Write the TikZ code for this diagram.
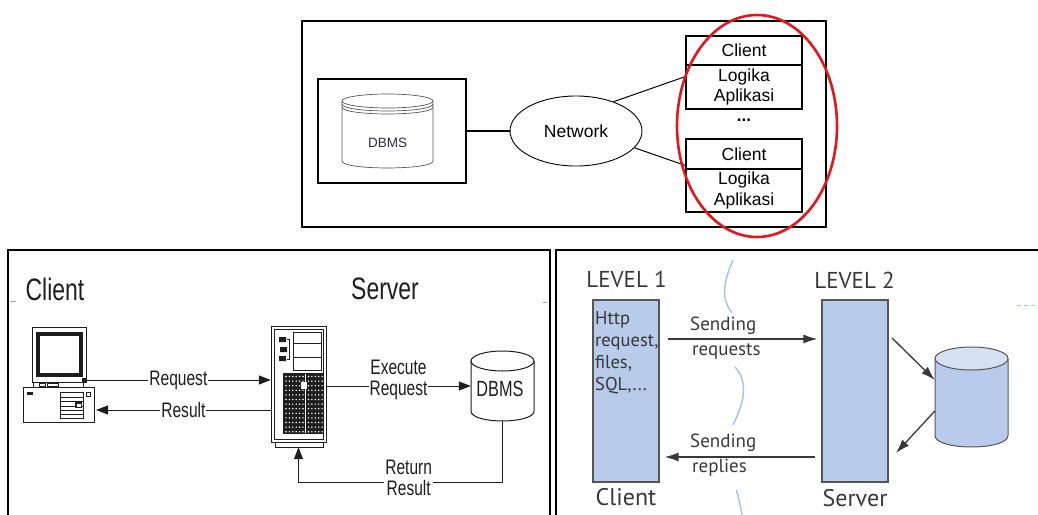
\documentclass[tikz,border=0pt]{standalone}
\usepackage{fontspec}
\setmainfont{Liberation Sans}
\newfontfamily\narrowsf[FakeStretch=0.74]{Liberation Sans}
\newfontfamily\handsf{PT Sans}
\usetikzlibrary{shapes.geometric,arrows.meta}

\definecolor{barblue}{HTML}{B9CBEA}
\definecolor{barlight}{HTML}{D6E1F3}
\definecolor{bargray}{HTML}{555555}
\definecolor{waveblue}{HTML}{A9C3E6}
\definecolor{handgray}{HTML}{383838}
\definecolor{inkgray}{HTML}{1E1E1E}
\definecolor{ringred}{HTML}{E8141C}
\definecolor{cylgray}{HTML}{555555}
\definecolor{dbtext}{HTML}{2A2A44}

\begin{document}
\begin{tikzpicture}[x=1pt,y=-1pt,
  panelline/.style={line width=1.6pt},
  cbox/.style={draw, line width=1.6pt, minimum width=116pt, inner sep=0pt, align=center,
    font=\fontsize{17.5}{20.5}\selectfont},
  narrowlab/.style={fill=white, inner sep=1pt, align=center, text=inkgray,
    font=\narrowsf\fontsize{21}{21}\selectfont},
  conn/.style={line width=1pt, draw=inkgray, -{Triangle[length=12pt,width=9pt]}},
  icon/.style={line width=0.9pt, draw=inkgray},
  levelbar/.style={draw=bargray, fill=barblue, line width=1.2pt, minimum width=66pt,
    minimum height=182pt, inner sep=0pt},
  handtext/.style={text=handgray, font=\handsf\fontsize{19}{22}\selectfont, inner sep=0pt},
  harrow/.style={draw=handgray, line width=1.3pt, -{Latex[length=14pt,width=9pt]}},
  wave/.style={draw=waveblue, line width=1.5pt},
]
\useasboundingbox (0,0) rectangle (1038,514);

% ---------------- two-tier architecture with client logic ----------------
\draw[panelline] (302,21) rectangle (826,227);

\node[draw, line width=1.6pt, minimum width=148pt, minimum height=104pt, inner sep=0pt]
  (dbbox) at (392,131) {};
% database cylinder with a layered lid
\begin{scope}[draw=cylgray, line width=0.7pt]
  \draw (342,101) -- (342,161) .. controls (342,170.3) and (433,170.3) .. (433,161) -- (433,101);
  \draw (387.5,101) ellipse [x radius=45.5pt, y radius=7pt];
  \draw (342,104) .. controls (342,113.3) and (433,113.3) .. (433,104);
  \draw (342,107) .. controls (342,116.3) and (433,116.3) .. (433,107);
\end{scope}
\node[text=dbtext, font=\fontsize{13.5}{16}\selectfont] (dbmstop) at (387.5,143) {DBMS};

\node[draw, ellipse, line width=0.9pt, minimum width=132pt, minimum height=70pt, inner sep=0pt,
  font=\fontsize{17.5}{20}\selectfont] (net) at (576,131) {Network};
\draw[line width=1.8pt] (dbbox.east) -- (net.west);

\node[cbox, minimum height=29pt] (cl1) at (744,50.5) {Client};
\node[cbox, minimum height=44pt] (lg1) at (744,87) {Logika\\Aplikasi};
\node[font=\bfseries\fontsize{17}{20}\selectfont, inner sep=0pt] (dots) at (744,120) {...};
\node[cbox, minimum height=30pt] (cl2) at (744,154) {Client};
\node[cbox, minimum height=43pt] (lg2) at (744,190.5) {Logika\\Aplikasi};

\draw[line width=1pt] (net.38) -- (lg1.170);
\draw[line width=1pt] (net.-16) -- (cl2.191);

\node[draw=ringred, line width=2.6pt, ellipse, minimum width=160pt, minimum height=222pt,
  inner sep=0pt] (ring) at (757,126) {};

% ---------------- client / server request flow ----------------
\draw[panelline] (8,520) -- (8,250) -- (550,250) -- (550,520);
\draw[gray!70, line width=0.6pt] (10,301) -- (16,301);
\draw[gray!70, line width=0.6pt] (543,302) -- (547,302);

\node[text=inkgray, font=\narrowsf\fontsize{31}{34}\selectfont] (ctitle) at (55,289) {Client};
\node[text=inkgray, font=\narrowsf\fontsize{31}{34}\selectfont] (stitle) at (385,289) {Server};

% desktop computer
\node[minimum width=71pt, minimum height=95pt, inner sep=0pt] (pc) at (58.5,374.5) {};
\draw[icon] (32,327) rectangle (86,382);
\draw[line width=4pt, draw=inkgray] (38,334) rectangle (81,375);
\fill[inkgray] (82,378) rectangle (85.5,381.5);
\draw[icon] (33,382) rectangle (83,387);
\draw[icon, line width=0.6pt] (39,383.5) rectangle (45,386) (47,383.5) rectangle (58,386);
\draw[icon] (23,387) rectangle (94,422);
\fill[inkgray] (27,392) rectangle (33,395);
\draw[icon, line width=0.7pt] (60,392) rectangle (83,418);
\foreach \yy in {397,401,406,410,414} \draw[inkgray, line width=0.6pt] (60,\yy) -- (83,\yy);
\fill[inkgray] (75,402) rectangle (82,408);
\fill[white] (76.5,403.5) rectangle (80.5,406.5);
\draw[icon, line width=0.6pt] (86,392) rectangle (90,396);
\coordinate (pcmon) at (86,380);
\coordinate (pccpu) at (96,410);

% tower server
\node[minimum width=55pt, minimum height=121pt, inner sep=0pt] (srv) at (298.5,386.5) {};
\draw[icon] (271,326) rectangle (326,442);
\draw[icon, line width=0.6pt] (274,329) rectangle (323,439);
\draw[icon] (275,442) rectangle (323,447);
\draw[icon, line width=0.7pt] (293,332) rectangle (321,370);
\draw[inkgray, line width=0.7pt] (293,343) -- (321,343) (293,357) -- (321,357);
\fill[inkgray] (279,337) rectangle (286,342) (280,347) rectangle (287,352) (279,356) rectangle (286,361);
\draw[inkgray, line width=0.8pt] (287,339) -- (289,339) -- (289,359) -- (287,359);
\fill[inkgray] (283,373) rectangle (324,434);
\foreach \i in {0,...,5} \foreach \j in {0,...,12}
  \fill[white] (286+3.4*\i,376.5+4.6*\j) circle (0.8pt);
\foreach \i in {0,...,4} \foreach \j in {0,...,12}
  \fill[white] (308.5+3.4*\i,376.5+4.6*\j) circle (0.8pt);
\draw[white, line width=0.8pt] (305.5,374) -- (305.5,433);
\fill[white] (301,382) rectangle (307,389);

% database
\node[minimum width=63pt, minimum height=70pt, inner sep=0pt] (dbms) at (502.5,386) {};
\begin{scope}[draw=inkgray, line width=1pt]
  \draw (471,361) -- (471,411) .. controls (471,424.3) and (534,424.3) .. (534,411) -- (534,361);
  \draw (502.5,361) ellipse [x radius=31.5pt, y radius=10pt];
\end{scope}
\node[text=inkgray, font=\narrowsf\fontsize{22}{24}\selectfont] (dbmslab) at (500,389) {DBMS};

\draw[conn] (pcmon) -- node[narrowlab] {Request} (srv.west |- pcmon);
\draw[conn] (srv.west |- pccpu) -- node[narrowlab] {Result} (pccpu);
\draw[conn] (srv.east |- dbms.west) -- node[narrowlab, yshift=6pt] {Execute\\Request} (dbms.west);
\draw[conn] (dbms.south) -- (dbms.south |- 0,482) -- node[narrowlab, pos=0.46, yshift=4.5pt] {Return\\Result}
  (srv.south |- 0,482) -- (srv.south);

% ---------------- two-level model ----------------
\draw[panelline] (556,520) -- (556,250) -- (1040,250);
\draw[waveblue, line width=0.8pt, dash pattern=on 4pt off 3pt] (1017,305) -- (1038,305);

\draw[wave] (733,260) .. controls (722,285) and (722,300) .. (732,313);
\draw[wave] (735,367) .. controls (748,381) and (745,401) .. (733,425);
\draw[wave] (736.5,490) .. controls (739,500) and (741,507) .. (742,516);

\node[handtext, font=\handsf\fontsize{23}{26}\selectfont] (lv1) at (626.5,279) {LEVEL 1};
\node[handtext, font=\handsf\fontsize{23}{26}\selectfont] (lv2) at (854.5,280) {LEVEL 2};

\node[levelbar] (cbar) at (626,391) {};
\node[levelbar] (sbar) at (855,391) {};

\node[handtext, font=\handsf\fontsize{18.5}{22}\selectfont, anchor=north west, align=left]
  (cbartext) at (595,311) {Http\\request,\\files,\\SQL,...};

\node[handtext, font=\handsf\fontsize{24}{27}\selectfont] (cname) at (626,497) {Client};
\node[handtext, font=\handsf\fontsize{24}{27}\selectfont] (sname) at (855,498) {Server};

% data store cylinder
\node[minimum width=73pt, minimum height=100pt, inner sep=0pt] (db2) at (971.5,397) {};
\filldraw[fill=barblue, draw=bargray, line width=1pt]
  (935,358.5) -- (935,435.5) .. controls (935,450.8) and (1008,450.8) .. (1008,435.5) -- (1008,358.5);
\filldraw[fill=barlight, draw=bargray, line width=1pt] (971.5,358.5) ellipse [x radius=36.5pt, y radius=11.5pt];

\draw[harrow, shorten <=8pt, shorten >=4pt] (cbar.east |- 0,339) -- (sbar.west |- 0,339);
\draw[harrow, shorten <=6pt, shorten >=5pt] (sbar.west |- 0,457) -- (cbar.east |- 0,457);
\node[handtext, anchor=base west] (sreq1) at (690,330) {Sending};
\node[handtext, anchor=base west] (sreq2) at (692,355) {requests};
\node[handtext, anchor=base west] (srep1) at (690,447) {Sending};
\node[handtext, anchor=base west] (srep2) at (692,472) {replies};

\coordinate (s1) at (892,338);
\coordinate (s2) at (896,453);
\draw[harrow] (s1) -- (db2.west |- 0,380);
\draw[harrow] (db2.west |- 0,411) -- (s2);
\end{tikzpicture}
\end{document}
